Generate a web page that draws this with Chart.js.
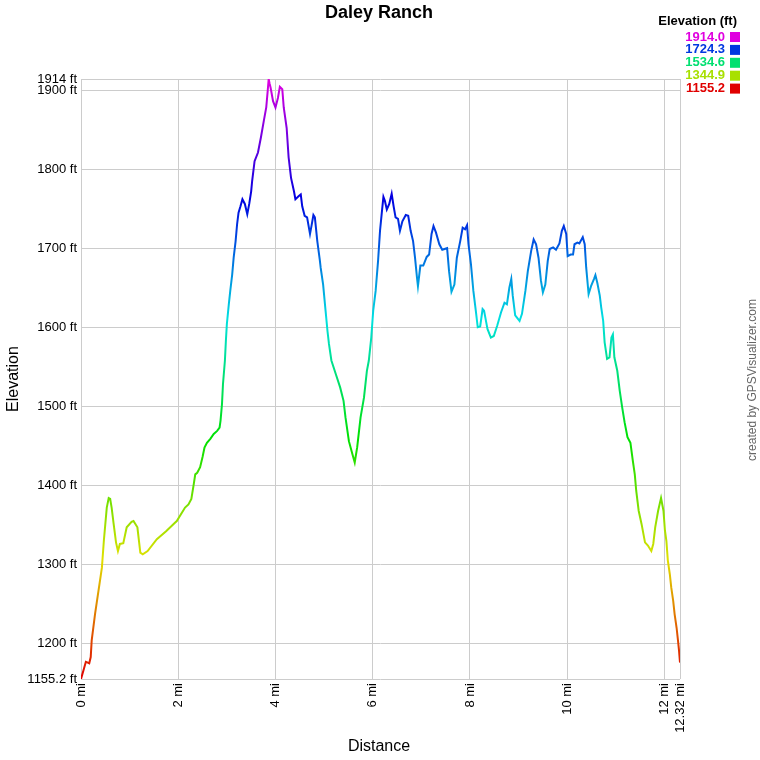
<!DOCTYPE html>
<html>
<head>
<meta charset="utf-8">
<script src="https://cdn.jsdelivr.net/npm/chart.js@4"></script>
<style>
  html, body { margin: 0; padding: 0; background: #fff; }
  #wrap { width: 760px; height: 760px; }
</style>
</head>
<body>
<div id="wrap"><canvas id="profileChart" width="760" height="760"></canvas></div>
<script>
// distance along the track (mi) and elevation (ft)
const distances = [
  0.00, 0.05, 0.10, 0.14, 0.17, 0.20, 0.22, 0.29, 0.36, 0.43, 0.47, 0.53, 0.57, 0.60, 0.63, 0.67,
  0.72, 0.76, 0.80, 0.87, 0.94, 1.04, 1.08, 1.16, 1.22, 1.27, 1.37, 1.56, 1.75, 1.90, 1.97, 2.14,
  2.21, 2.27, 2.32, 2.35, 2.39, 2.45, 2.50, 2.54, 2.59, 2.66, 2.73, 2.80, 2.85, 2.87, 2.90, 2.92,
  2.96, 2.98, 3.00, 3.04, 3.07, 3.11, 3.14, 3.18, 3.21, 3.24, 3.28, 3.32, 3.37, 3.42, 3.46, 3.50,
  3.52, 3.57, 3.64, 3.70, 3.76, 3.81, 3.84, 3.86, 3.88, 3.90, 3.95, 4.00, 4.05, 4.09, 4.14, 4.17,
  4.23, 4.27, 4.32, 4.38, 4.41, 4.48, 4.52, 4.55, 4.60, 4.65, 4.71, 4.74, 4.78, 4.81, 4.86, 4.91,
  4.93, 4.98, 5.03, 5.07, 5.10, 5.15, 5.24, 5.33, 5.40, 5.44, 5.51, 5.58, 5.63, 5.68, 5.75, 5.82,
  5.88, 5.92, 5.97, 6.01, 6.06, 6.11, 6.15, 6.19, 6.22, 6.25, 6.29, 6.34, 6.39, 6.43, 6.47, 6.52,
  6.56, 6.61, 6.68, 6.73, 6.78, 6.83, 6.87, 6.91, 6.93, 6.98, 7.04, 7.11, 7.16, 7.21, 7.25, 7.30,
  7.37, 7.43, 7.53, 7.57, 7.62, 7.68, 7.73, 7.80, 7.85, 7.90, 7.94, 7.97, 8.02, 8.07, 8.12, 8.16,
  8.21, 8.26, 8.29, 8.36, 8.43, 8.49, 8.56, 8.64, 8.71, 8.76, 8.81, 8.85, 8.88, 8.93, 9.02, 9.07,
  9.14, 9.19, 9.26, 9.31, 9.36, 9.41, 9.46, 9.50, 9.55, 9.60, 9.64, 9.71, 9.77, 9.84, 9.89, 9.93,
  9.98, 10.01, 10.07, 10.12, 10.15, 10.21, 10.25, 10.32, 10.36, 10.39, 10.44, 10.49, 10.55, 10.58,
  10.62, 10.67, 10.70, 10.74, 10.77, 10.82, 10.87, 10.91, 10.94, 10.97, 11.03, 11.08, 11.13, 11.18,
  11.24, 11.30, 11.35, 11.39, 11.42, 11.47, 11.53, 11.60, 11.66, 11.73, 11.77, 11.81, 11.87, 11.93,
  11.98, 12.01, 12.04, 12.07, 12.11, 12.14, 12.18, 12.21, 12.25, 12.28, 12.30, 12.32
];
const elevations = [
  1155.2, 1166, 1177, 1176, 1175, 1183, 1204, 1238, 1267, 1296, 1330, 1372, 1384, 1383, 1372, 1352,
  1328, 1317, 1326, 1327, 1347, 1354, 1355, 1347, 1315, 1313, 1317, 1332, 1342, 1351, 1355, 1372,
  1376, 1383, 1402, 1414, 1416, 1423, 1436, 1448, 1454, 1459, 1465, 1469, 1473, 1482, 1503, 1528,
  1558, 1583, 1604, 1629, 1646, 1667, 1688, 1709, 1730, 1745, 1753, 1762, 1756, 1743, 1756, 1772,
  1785, 1810, 1821, 1840, 1861, 1878, 1899, 1914, 1908, 1903, 1886, 1878, 1890, 1904, 1901, 1878,
  1852, 1815, 1789, 1772, 1762, 1766, 1768, 1753, 1741, 1739, 1718, 1728, 1742, 1739, 1709, 1686,
  1675, 1654, 1621, 1595, 1579, 1558, 1541, 1524, 1507, 1486, 1456, 1440, 1429, 1448, 1486, 1511,
  1545, 1558, 1587, 1621, 1646, 1684, 1722, 1747, 1765, 1760, 1749, 1756, 1769, 1753, 1739, 1737,
  1722, 1734, 1742, 1741, 1722, 1709, 1688, 1663, 1652, 1678, 1678, 1689, 1692, 1718, 1728, 1720,
  1705, 1698, 1700, 1671, 1645, 1654, 1688, 1709, 1726, 1724, 1729, 1705, 1680, 1646, 1621, 1600,
  1601, 1623, 1621, 1598, 1587, 1589, 1602, 1619, 1631, 1629, 1650, 1661, 1640, 1615, 1608, 1617,
  1646, 1671, 1697, 1711, 1705, 1688, 1659, 1644, 1654, 1684, 1699, 1701, 1698, 1706, 1722, 1728,
  1718, 1690, 1692, 1692, 1705, 1707, 1706, 1714, 1705, 1676, 1642, 1652, 1661, 1666,
  1656, 1640, 1625, 1608, 1581, 1560, 1562, 1587, 1591, 1562, 1545, 1520, 1499, 1480,
  1461, 1454, 1431, 1414, 1393, 1368, 1351, 1328, 1324, 1317, 1326, 1347, 1368, 1384,
  1368, 1343, 1330, 1305, 1288, 1271, 1254, 1237, 1220, 1203, 1191, 1176
];

const yTickValues = [1155.2, 1200, 1300, 1400, 1500, 1600, 1700, 1800, 1900, 1914];
const yTickLabels = ['1155.2 ft', '1200 ft', '1300 ft', '1400 ft', '1500 ft', '1600 ft', '1700 ft', '1800 ft', '1900 ft', '1914 ft'];
const xTickValues = [0, 2, 4, 6, 8, 10, 12, 12.32];
const xTickLabels = ['0 mi', '2 mi', '4 mi', '6 mi', '8 mi', '10 mi', '12 mi', '12.32 mi'];
const legendValues = ['1914.0', '1724.3', '1534.6', '1344.9', '1155.2'];

const elevMin = 1155.2;
const elevMax = 1914;
const FONT = 'Arial, "Liberation Sans", sans-serif';

// hue runs red (low) -> magenta (high)
function elevColor(v) {
  const t = Math.max(0, Math.min(1, (v - elevMin) / (elevMax - elevMin)));
  return 'hsl(' + (t * 300).toFixed(1) + ',100%,44%)';
}

function lineGradient(context) {
  const chart = context.chart;
  const area = chart.chartArea;
  if (!area) return elevColor(elevMin);
  const y = chart.scales.y;
  const y0 = y.getPixelForValue(elevMin);
  const y1 = y.getPixelForValue(elevMax);
  const g = chart.ctx.createLinearGradient(0, y0, 0, y1);
  for (let i = 0; i <= 30; i++) {
    const t = i / 30;
    g.addColorStop(t, elevColor(elevMin + t * (elevMax - elevMin)));
  }
  return g;
}

const decorations = {
  id: 'decorations',
  afterDraw(chart) {
    const ctx = chart.ctx;
    ctx.save();
    // title
    ctx.fillStyle = '#000';
    ctx.font = 'bold 18px ' + FONT;
    ctx.textAlign = 'center';
    ctx.textBaseline = 'middle';
    ctx.fillText('Daley Ranch', 379, 13);

    // axis titles
    ctx.font = '16px ' + FONT;
    ctx.fillText('Distance', 379, 747);
    ctx.save();
    ctx.translate(14, 379);
    ctx.rotate(-Math.PI / 2);
    ctx.fillText('Elevation', 0, 0);
    ctx.restore();

    // credit
    ctx.save();
    ctx.fillStyle = '#666';
    ctx.font = '12px ' + FONT;
    ctx.translate(753, 380);
    ctx.rotate(-Math.PI / 2);
    ctx.fillText('created by GPSVisualizer.com', 0, 0);
    ctx.restore();

    // colour legend
    ctx.textAlign = 'right';
    ctx.font = 'bold 13px ' + FONT;
    ctx.fillStyle = '#000';
    ctx.fillText('Elevation (ft)', 737, 21);
    legendValues.forEach((v, i) => {
      const yy = 37 + i * 12.9;
      const c = elevColor(parseFloat(v));
      ctx.fillStyle = c;
      ctx.fillText(v, 725, yy);
      ctx.fillRect(730, yy - 5, 10, 10);
    });
    ctx.restore();
  }
};

const profileChart = document.getElementById('profileChart').getContext('2d');
new Chart(profileChart, {
  type: 'line',
  data: {
    datasets: [{
      label: 'Elevation',
      data: distances.map((d, i) => ({ x: d, y: elevations[i] })),
      borderColor: lineGradient,
      borderWidth: 2,
      pointRadius: 0,
      tension: 0,
      fill: false
    }]
  },
  options: {
    responsive: false,
    animation: false,
    events: [],
    layout: { padding: { top: 79, right: 80, left: 0, bottom: 0 } },
    plugins: {
      legend: { display: false },
      title: { display: false },
      tooltip: { enabled: false }
    },
    scales: {
      x: {
        type: 'linear',
        min: 0,
        max: 12.32,
        afterBuildTicks: s => { s.ticks = xTickValues.map(v => ({ value: v })); },
        afterFit: s => { s.height = 81; },
        grid: { color: 'rgb(204,204,204)', lineWidth: 1, drawTicks: false },
        border: { display: false },
        ticks: {
          autoSkip: false,
          minRotation: 90,
          maxRotation: 90,
          padding: 4,
          color: '#000',
          font: { family: FONT, size: 13 },
          callback: v => xTickLabels[xTickValues.indexOf(v)]
        }
      },
      y: {
        type: 'linear',
        min: elevMin,
        max: elevMax,
        afterBuildTicks: s => { s.ticks = yTickValues.map(v => ({ value: v })); },
        afterFit: s => { s.width = 81; },
        grid: { color: 'rgb(204,204,204)', lineWidth: 1, drawTicks: false },
        border: { display: false },
        ticks: {
          autoSkip: false,
          padding: 4,
          color: '#000',
          font: { family: FONT, size: 13 },
          callback: v => yTickLabels[yTickValues.indexOf(v)]
        }
      }
    }
  },
  plugins: [decorations]
});
</script>
</body>
</html>
